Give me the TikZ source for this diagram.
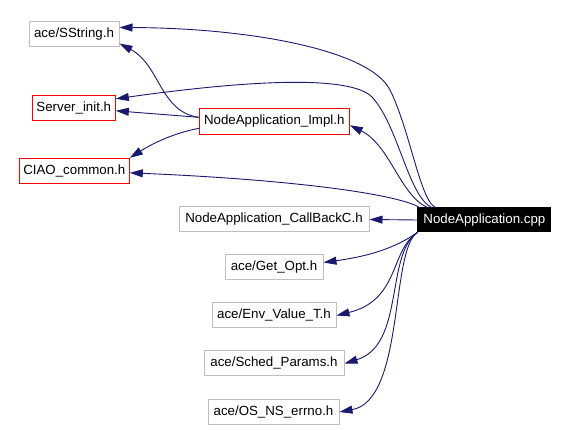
\documentclass[tikz,border=0pt]{standalone}
\usepackage{fontspec}
\setmainfont{Liberation Sans}
\usetikzlibrary{arrows.meta,calc}
\definecolor{edgeblue}{HTML}{191970}
\definecolor{boxgray}{HTML}{BFBFBF}
\begin{document}
\begin{tikzpicture}[x=1pt,y=-1pt,
  every node/.style={font=\fontsize{13.3}{15}\selectfont, inner sep=0pt, line width=1pt},
  filebox/.style={draw=boxgray, minimum height=25pt},
  redbox/.style={draw=red, minimum height=25pt},
  mainbox/.style={draw=black, fill=black, text=white, minimum height=24pt},
  edge/.style={draw=edgeblue, line width=0.9pt, -{Triangle[length=13pt,width=8pt]}}]
\useasboundingbox (0,0) rectangle (568,430);
\node[filebox, minimum width=90pt] (sstr) at (74,34.5) {ace/SString.h};
\node[redbox, minimum width=83pt] (srv) at (73.8,107.8) {Server\_init.h};
\node[redbox, minimum width=110pt] (ciao) at (74.3,170.8) {CIAO\_common.h};
\node[redbox, minimum width=150pt, minimum height=26pt] (impl) at (274.3,121.3) {NodeApplication\_Impl.h};
\node[mainbox, minimum width=133pt] (cpp) at (484.4,220) {NodeApplication.cpp};
\node[filebox, minimum width=190pt] (cb) at (274,219.5) {NodeApplication\_CallBackC.h};
\node[filebox, minimum width=98pt] (getopt) at (274,267.5) {ace/Get\_Opt.h};
\node[filebox, minimum width=124pt] (env) at (274,315.5) {ace/Env\_Value\_T.h};
\node[filebox, minimum width=140pt] (sched) at (274,363.5) {ace/Sched\_Params.h};
\node[filebox, minimum width=131pt] (os) at (273.5,412) {ace/OS\_NS\_errno.h};

\draw[edge] ($(cpp.north west)+(18,0)$) .. controls (420,200) and (410,130) .. (390,90) .. controls (370,50) and (250,28) .. ($(sstr.east)+(0,-7)$);
\draw[edge] ($(cpp.north west)+(14,0)$) .. controls (408,195) and (398,125) .. (372,97) .. controls (350,75) and (250,80) .. ($(srv.east)+(0,-9)$);
\draw[edge] ($(cpp.north west)+(10,0)$) .. controls (400,195) and (390,145) .. ($(impl.east)+(0,4)$);
\draw[edge] ($(cpp.north west)+(2,0)$) .. controls (400,195) and (300,180) .. ($(ciao.east)+(0,2)$);
\draw[edge] ($(impl.west)+(0,-4)$) .. controls (160,112) and (160,65) .. ($(sstr.south east)+(0,-4)$);
\draw[edge] ($(impl.west)+(0,-4)$) -- ($(srv.east)+(0,3)$);
\draw[edge] ($(impl.west)+(0,7)$) .. controls (175,133) and (155,142) .. (ciao.north east);
\draw[edge] (cpp.west) -- (cb.east);
\draw[edge] (cpp.south west) .. controls (395,248) and (370,256) .. ($(getopt.east)+(0,-5)$);
\draw[edge] (cpp.south west) .. controls (390,250) and (400,300) .. (env.east);
\draw[edge] (cpp.south west) .. controls (385,255) and (405,345) .. (sched.east);
\draw[edge] (cpp.south west) .. controls (390,250) and (405,400) .. (os.east);
\end{tikzpicture}
\end{document}
